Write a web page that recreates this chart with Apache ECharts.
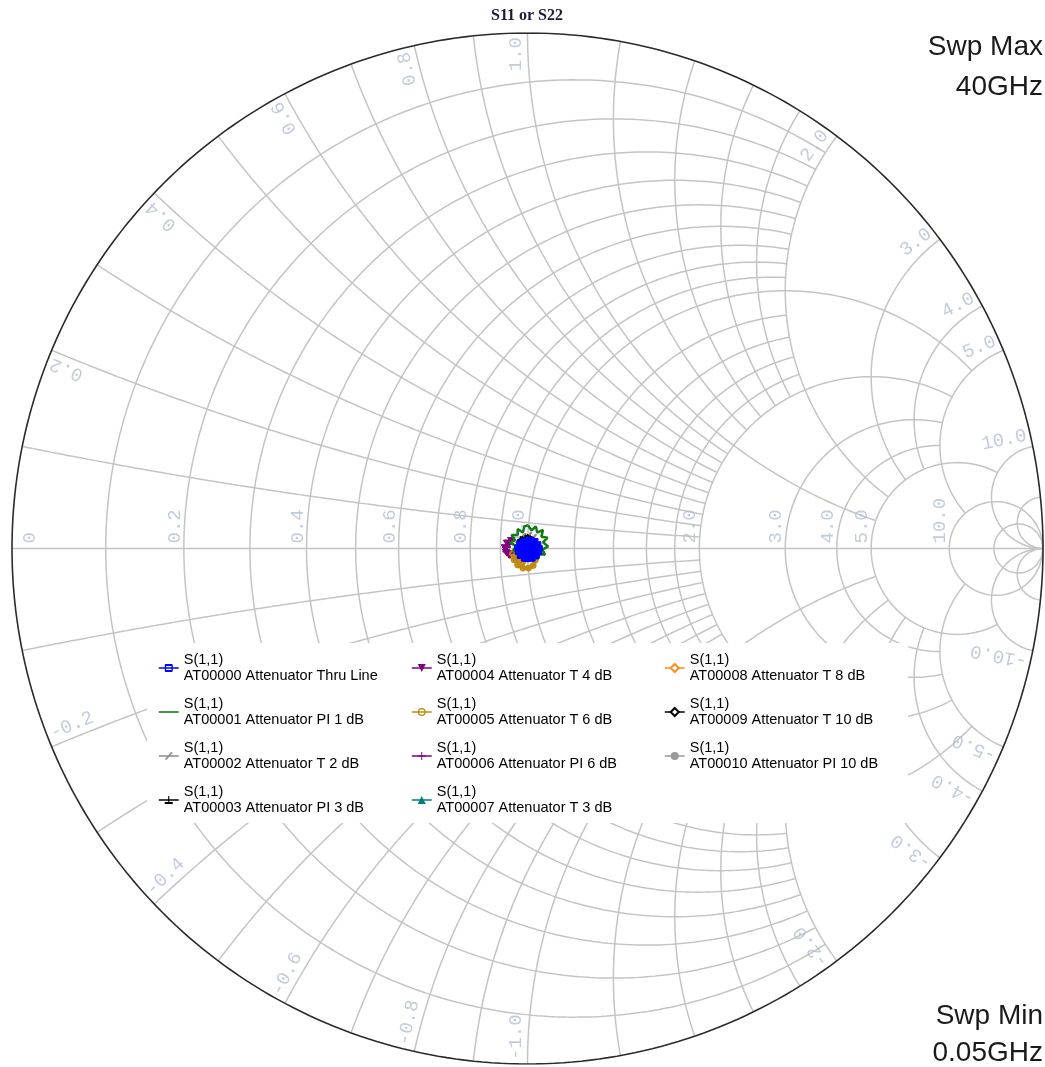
<!DOCTYPE html>
<html>
<head>
<meta charset="utf-8">
<script src="https://cdn.jsdelivr.net/npm/echarts@6/dist/echarts.min.js"></script>
<style>
  html, body { margin: 0; padding: 0; background: #ffffff; }
  #chart { width: 1045px; height: 1067px; }
</style>
</head>
<body>
<div id="chart"></div>
<script>
// ---- Smith chart grid values (normalised impedance) ----
const resistanceFine   = [0.1, 0.2, 0.3, 0.4, 0.5, 0.6, 0.7, 0.8, 0.9];
const resistanceMid    = [1.2, 1.4, 1.6, 1.8];
const resistanceCoarse = [3, 4];
const reactanceFine    = [0.1, 0.2, 0.3, 0.4, 0.5, 0.6, 0.7, 0.8, 0.9];
const reactanceMid     = [1.2, 1.4, 1.6, 1.8];
const reactanceCoarse  = [3, 4];

// ---- grid tick labels ----
const resistanceLabels = [0, 0.2, 0.4, 0.6, 0.8, 1.0, 2.0, 3.0, 4.0, 5.0, 10.0];
const reactanceLabels  = [0.2, 0.4, 0.6, 0.8, 1.0, 2.0, 3.0, 4.0, 5.0, 10.0];

// ---- measured traces: reflection coefficient [Re, Im] ----
const traceNames = [
  'AT00000 Attenuator Thru Line',
  'AT00001 Attenuator PI 1 dB',
  'AT00002 Attenuator T 2 dB',
  'AT00003 Attenuator PI 3 dB',
  'AT00004 Attenuator T 4 dB',
  'AT00005 Attenuator T 6 dB',
  'AT00006 Attenuator PI 6 dB',
  'AT00007 Attenuator T 3 dB',
  'AT00008 Attenuator T 8 dB',
  'AT00009 Attenuator T 10 dB',
  'AT00010 Attenuator PI 10 dB'
];
const s11Thru = [[0.004,0.017],[0.011,0.015],[0.017,0.009],[0.020,0.001],[0.019,-0.008],[0.014,-0.015],[0.006,-0.020],[-0.003,-0.020],[-0.011,-0.015],[-0.015,-0.007],[-0.016,0.002],[-0.012,0.010],[-0.005,0.015],[0.003,0.012],[0.010,0.009],[0.013,0.002],[0.012,-0.006],[0.007,-0.012],[0.000,-0.013],[-0.007,-0.009],[-0.010,-0.002],[-0.008,0.005],[-0.002,0.008],[0.005,0.005],[0.007,-0.002],[0.003,-0.007],[-0.003,-0.005],[-0.003,0.001],[0.001,0.000]];
const s11Pi1  = [[0.001,0.045],[0.008,0.035],[0.016,0.043],[0.019,0.031],[0.030,0.036],[0.027,0.023],[0.039,0.021],[0.030,0.012],[0.040,0.004],[0.029,-0.002],[0.034,-0.012],[0.022,-0.010],[0.020,-0.021],[0.011,-0.014],[0.003,-0.020],[-0.005,-0.011],[-0.014,-0.015],[-0.016,-0.005],[-0.028,-0.004],[-0.022,0.005],[-0.034,0.011],[-0.024,0.016],[-0.031,0.026],[-0.019,0.026],[-0.019,0.038],[-0.009,0.031],[-0.006,0.043],[0.001,0.045]];
const s11T2   = [[-0.017,0.017],[-0.009,0.023],[0.002,0.025],[0.011,0.021],[0.015,0.013]];
const s11Pi3  = [[-0.013,0.019],[-0.004,0.022],[0.005,0.021],[0.012,0.016]];
const s11T4   = [[-0.032,0.016],[-0.040,0.011],[-0.044,0.002],[-0.042,-0.007],[-0.036,-0.013],[-0.030,-0.010]];
const s11T6   = [[-0.029,-0.010],[-0.026,-0.022],[-0.019,-0.032],[-0.009,-0.038],[0.002,-0.038],[0.011,-0.033],[0.015,-0.023],[0.010,-0.016],[0.000,-0.021],[-0.010,-0.027],[-0.018,-0.020],[-0.020,-0.011],[-0.012,-0.009],[-0.005,-0.015],[0.004,-0.014],[0.012,-0.017]];
const s11Pi6  = [[-0.035,0.009],[-0.041,0.003],[-0.040,-0.006],[-0.034,-0.011]];
const s11T3   = [[-0.006,0.006],[0.006,0.008],[0.010,-0.002]];
const s11T8   = [[-0.012,-0.010],[-0.004,-0.014],[0.004,-0.012]];
const s11T10  = [[-0.010,0.014],[0.000,0.018],[0.008,0.014]];
const s11Pi10 = [[-0.006,0.012],[0.004,0.013]];

const traceData = [s11Thru, s11Pi1, s11T2, s11Pi3, s11T4, s11T6, s11Pi6, s11T3, s11T8, s11T10, s11Pi10];

// ---- appearance ----
const PLOT = { left: 12, top: 33, size: 1031 };      // square plot holding the unit circle
const PX = PLOT.size / 2;                              // pixels per unit of |Gamma|
const GRID_COLOR = '#c4c4c4';
const LABEL_COLOR = '#b3bed3';
const LABEL_FONT = 'Liberation Mono, Courier New, monospace';

// marker outlines: ring-shaped paths keep the trace line visible through them
const RING_RECT = 'path://M1,0 H9 Q10,0 10,1 V6 Q10,7 9,7 H1 Q0,7 0,6 V1 Q0,0 1,0 Z M1.7,1.7 V5.3 H8.3 V1.7 Z';
const RING_CIRCLE = 'path://M5,0 A5,5 0 1,1 4.99,0 Z M5,1.6 A3.4,3.4 0 1,0 5.01,1.6 Z';
const PLUS = 'path://M4.4,0 H5.6 V4.4 H10 V5.6 H5.6 V10 H4.4 V5.6 H0 V4.4 H4.4 Z';
const SLASH = 'path://M0,9 L8,0 L10,1 L2,10 Z';
const TEE = 'path://M4.3,0 H5.7 V4.3 H10 V5.7 H0 V4.3 H4.3 Z';
const TRI_DOWN = 'path://M0,0 L10,0 L5,8 Z';
const PLAIN_LINE = 'path://M0,0 H20 V1.6 H0 Z';

const traceStyles = [
  { color: '#0000ff', symbol: RING_RECT, size: [9, 7], width: 5, z: 14 },
  { color: '#137a13', symbol: 'none', size: 0, width: 2.5, z: 13, icon: PLAIN_LINE },
  { color: '#8c8c8c', symbol: SLASH, size: 7, width: 1.5, z: 10 },
  { color: '#000000', symbol: TEE, size: 7, width: 1.5, z: 10 },
  { color: '#800080', symbol: TRI_DOWN, size: 7, width: 1.8, z: 10 },
  { color: '#c08a10', symbol: RING_CIRCLE, size: 6, width: 3.5, z: 11 },
  { color: '#800080', symbol: PLUS, size: 8, width: 1.8, z: 10 },
  { color: '#008080', symbol: 'triangle', size: 7, width: 1.5, z: 10 },
  { color: '#ff8c1a', symbol: 'emptyDiamond', size: 8, width: 1.5, z: 10 },
  { color: '#000000', symbol: 'emptyDiamond', size: 8, width: 1.5, z: 10 },
  { color: '#999999', symbol: 'circle', size: 8, width: 1.5, z: 10 }
];

// ---- Smith chart geometry ----
function gamma(r, x) {
  const d = (r + 1) * (r + 1) + x * x;
  return [(r * r + x * x - 1) / d, (2 * x) / d];
}
const STEPS = 360;
// constant-resistance circle, reactance limited to |x| <= xLim
function resistanceCurve(r, xLim) {
  const a = Math.atan(xLim), pts = [];
  for (let i = 0; i <= STEPS; i++) {
    const t = -a + 2 * a * i / STEPS;
    pts.push(gamma(r, Math.tan(t)));
  }
  return pts;
}
// constant-reactance arc, resistance limited to r <= rLim
function reactanceCurve(x, rLim) {
  const a = Math.atan(rLim), pts = [];
  for (let i = 0; i <= STEPS; i++) {
    const t = a * i / STEPS;
    pts.push(gamma(Math.tan(t), x));
  }
  return pts;
}

const gridCurves = [];
function addR(values, lim) { values.forEach(v => gridCurves.push(resistanceCurve(v, lim))); }
function addX(values, lim) { values.forEach(v => { gridCurves.push(reactanceCurve(v, lim)); gridCurves.push(reactanceCurve(-v, lim)); }); }
addR(resistanceFine, 2);
addR([1.0], 5);
addR(resistanceMid, 2);
addR([2.0], 5);
addR(resistanceCoarse, 5);
addR([5.0], 10);
addR([10, 20], Infinity);
addX(reactanceFine, 2);
addX([1.0], 5);
addX(reactanceMid, 2);
addX([2.0], 5);
addX(reactanceCoarse, 5);
addX([5.0], 10);
addX([10, 20], Infinity);

const series = [];
gridCurves.forEach(pts => series.push({
  type: 'line', data: pts, showSymbol: false, silent: true, animation: false, z: 1,
  lineStyle: { color: GRID_COLOR, width: 1.5 }
}));
// real axis
series.push({
  type: 'line', data: [[-1, 0], [1, 0]], showSymbol: false, silent: true, animation: false, z: 1,
  lineStyle: { color: GRID_COLOR, width: 1.5 }
});
// unit circle (r = 0)
series.push({
  type: 'line', data: resistanceCurve(0, Infinity), showSymbol: false, silent: true, animation: false, z: 2,
  lineStyle: { color: '#2a2a2a', width: 1.6 }
});

// grid labels
const labelItems = [];
resistanceLabels.forEach(v => {
  const g = gamma(v, 0)[0];
  const gx = v === 0 ? g + 30 / PX : g + 3 / PX;
  labelItems.push({
    value: [gx, 5 / PX],
    label: { formatter: v === 0 ? '0' : v.toFixed(1), rotate: 90, align: 'left', verticalAlign: 'bottom' }
  });
});
reactanceLabels.forEach(v => {
  [1, -1].forEach(sgn => {
    const g = gamma(0, sgn * v);
    const th = Math.atan2(g[1], g[0]);
    const rho = 1 - 4 / PX;
    const deg = th * 180 / Math.PI;
    labelItems.push({
      value: [rho * Math.cos(th), rho * Math.sin(th)],
      label: {
        formatter: (sgn < 0 ? '-' : '') + v.toFixed(1),
        rotate: sgn > 0 ? deg : deg + 180,
        align: sgn > 0 ? 'right' : 'left',
        verticalAlign: 'bottom'
      }
    });
  });
});
series.push({
  type: 'scatter', data: labelItems, symbolSize: 1, silent: true, animation: false, z: 5,
  itemStyle: { color: 'rgba(0,0,0,0)' },
  label: {
    show: true, position: 'inside', color: LABEL_COLOR, fontFamily: LABEL_FONT, fontSize: 19, lineHeight: 24
  }
});

// measured traces
traceData.forEach((d, i) => {
  const s = traceStyles[i];
  series.push({
    name: traceNames[i], type: 'line', data: d, animation: false, z: s.z,
    symbol: s.symbol, symbolSize: s.size, showSymbol: s.symbol !== 'none', symbolKeepAspect: true,
    itemStyle: { color: s.color, borderColor: s.color },
    lineStyle: { color: s.color, width: s.width }
  });
});

const legendColumns = [[0, 4], [4, 8], [8, 11]];
const legendLeft = [153, 406, 659];

const chart = echarts.init(document.getElementById('chart'), null, { renderer: 'canvas' });
chart.setOption({
  animation: false,
  backgroundColor: '#ffffff',
  grid: { left: PLOT.left, top: PLOT.top, width: PLOT.size, height: PLOT.size, containLabel: false },
  xAxis: { type: 'value', min: -1, max: 1, show: false },
  yAxis: { type: 'value', min: -1, max: 1, show: false },
  legend: legendColumns.map((c, k) => ({
    data: traceNames.slice(c[0], c[1]).map((n, j) => {
      const st = traceStyles[c[0] + j];
      return st.icon ? { name: n, icon: st.icon } : { name: n };
    }),
    orient: 'vertical', left: legendLeft[k], top: 639, itemGap: -4,
    itemWidth: 20, itemHeight: 10, selectedMode: false, z: 20,
    lineStyle: { width: 1.5 },
    formatter: n => 'S(1,1)\n' + n,
    textStyle: {
      fontFamily: 'Liberation Sans, Arial, sans-serif', fontSize: 14.5, color: '#000000',
      lineHeight: 16, padding: [16, 0, 0, 0]
    }
  })),
  graphic: [
    { type: 'rect', shape: { x: 147, y: 643, width: 761, height: 180 }, style: { fill: '#ffffff' }, z: 3, silent: true },
    { type: 'text', x: 527, y: 16, z: 20, style: { text: 'S11 or S22', textAlign: 'center', textVerticalAlign: 'middle', font: 'bold 16px "Liberation Serif", "Times New Roman", serif', fill: '#1c1c38' } },
    { type: 'text', x: 1043, y: 47, z: 20, style: { text: 'Swp Max', textAlign: 'right', textVerticalAlign: 'middle', font: '28px "Liberation Sans", Arial, sans-serif', fill: '#1a1a1a' } },
    { type: 'text', x: 1043, y: 87, z: 20, style: { text: '40GHz', textAlign: 'right', textVerticalAlign: 'middle', font: '28px "Liberation Sans", Arial, sans-serif', fill: '#1a1a1a' } },
    { type: 'text', x: 1043, y: 1016, z: 20, style: { text: 'Swp Min', textAlign: 'right', textVerticalAlign: 'middle', font: '28px "Liberation Sans", Arial, sans-serif', fill: '#1a1a1a' } },
    { type: 'text', x: 1043, y: 1053, z: 20, style: { text: '0.05GHz', textAlign: 'right', textVerticalAlign: 'middle', font: '28px "Liberation Sans", Arial, sans-serif', fill: '#1a1a1a' } }
  ],
  series: series
});
</script>
</body>
</html>
